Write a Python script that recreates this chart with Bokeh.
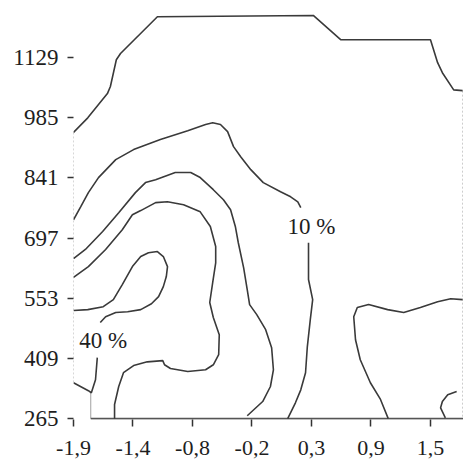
from bokeh.plotting import figure
from bokeh.models import Range1d, FixedTicker
from bokeh.core.properties import value
from bokeh.embed import file_html
from bokeh.resources import INLINE

# ---- axis ticks ----
x_tick_pos = [0, 1, 2, 3, 4, 5, 6]
x_tick_labels = ["-1,9", "-1,4", "-0,8", "-0,2", "0,3", "0,9", "1,5"]
y_ticks = [265, 409, 553, 697, 841, 985, 1129]

# ---- outer data boundary (top) ----
boundary_x = [0, 0.24, 0.57, 0.62, 0.72, 0.79, 1.41, 4.03, 4.49, 6.0, 6.12, 6.2, 6.39, 6.54]
boundary_y = [950, 985, 1043, 1060, 1124, 1139, 1227, 1230, 1172, 1172, 1117, 1093, 1052, 1050]

# left / right (dotted) edges and bottom-left edge of the data region
left_edge_x = [0, 0]
left_edge_y = [950, 351]
right_edge_x = [6.54, 6.54]
right_edge_y = [1050, 265]
bl_edge_x = [0.29, 0.29]
bl_edge_y = [327, 265]
base_x = [0.29, 6.6]
base_y = [265, 265]

# ---- 10 % contour ----
c10a_x = [0, 0.12, 0.25, 0.42, 0.71, 1.01, 1.46, 1.92, 2.22, 2.34, 2.47, 2.59, 2.69, 2.81, 2.98, 3.19, 3.48, 3.65, 3.77, 3.82]
c10a_y = [741, 772, 806, 842, 885, 909, 933, 954, 969, 973, 969, 952, 916, 892, 861, 830, 808, 796, 784, 770]
c10b_x = [3.95, 3.95, 4.02, 3.98, 3.93, 3.9, 3.82, 3.73, 3.6]
c10b_y = [686, 598, 550, 502, 437, 375, 334, 303, 265]

# ---- 20 % contour ----
c20_x = [0, 0.2, 0.49, 0.76, 1.04, 1.21, 1.38, 1.71, 1.97, 2.13, 2.35, 2.52, 2.64, 2.72, 2.77, 2.86, 2.92, 2.96, 3.08, 3.23, 3.33, 3.36, 3.31, 3.18, 2.92]
c20_y = [648, 670, 713, 758, 806, 830, 837, 854, 854, 842, 813, 789, 765, 725, 686, 626, 574, 538, 514, 478, 435, 382, 342, 306, 272]

# ---- 30 % contour ----
c30_x = [0, 0.25, 0.54, 0.82, 0.99, 1.13, 1.38, 1.58, 1.85, 2.13, 2.3, 2.39, 2.39, 2.34, 2.29, 2.35, 2.45, 2.44, 2.35, 2.22, 1.92, 1.63, 1.53, 1.5, 1.24, 1.01, 0.84, 0.76, 0.69, 0.69]
c30_y = [603, 629, 670, 717, 753, 763, 782, 784, 777, 760, 725, 677, 638, 591, 543, 507, 466, 418, 394, 382, 378, 385, 394, 404, 401, 392, 375, 342, 299, 265]

# ---- 40 % contour ----
c40a_x = [0, 0.24, 0.5, 0.67, 0.82, 0.99, 1.13, 1.26, 1.41, 1.51, 1.58, 1.56, 1.51, 1.43, 1.31, 1.13, 0.91, 0.71, 0.54, 0.45]
c40a_y = [524, 526, 533, 550, 586, 629, 653, 662, 665, 653, 629, 605, 581, 557, 540, 526, 521, 519, 509, 495]
c40b_x = [0.4, 0.37, 0.3, 0.25, 0]
c40b_y = [411, 358, 327, 332, 351]

# ---- right-hand contours ----
cr_x = [5.29, 5.16, 4.99, 4.82, 4.74, 4.71, 4.77, 4.96, 5.28, 5.55, 5.83, 6.12, 6.34, 6.54]
cr_y = [265, 311, 351, 406, 454, 509, 531, 538, 526, 519, 531, 545, 552, 550]
cs_x = [6.44, 6.29, 6.2, 6.17, 6.25]
cs_y = [330, 322, 306, 291, 267]

# ---- contour labels ----
lab_text = ["10 %", "40 %"]
lab_x = [4.0, 0.5]
lab_y = [724, 452]

FONT = "Liberation Serif"
INK = "#1e1e1e"
LINE = "#3a3a3a"

p = figure(width=463, height=460, output_backend="svg", toolbar_location=None,
           x_range=Range1d(0, 6.555), y_range=Range1d(263, 1265.8),
           min_border_left=73, min_border_right=0, min_border_top=0, min_border_bottom=41)
p.grid.visible = False
p.outline_line_color = None
p.background_fill_color = "white"
p.border_fill_color = "white"

p.xaxis.ticker = FixedTicker(ticks=x_tick_pos)
p.xaxis.major_label_overrides = {t: l for t, l in zip(x_tick_pos, x_tick_labels)}
p.yaxis.ticker = FixedTicker(ticks=y_ticks)
for ax in (p.xaxis, p.yaxis):
    ax.axis_line_color = None
    ax.minor_tick_line_color = None
    ax.major_tick_in = 0
    ax.major_tick_line_color = "#333333"
    ax.major_tick_line_width = 1.5
    ax.major_label_text_font = FONT
    ax.major_label_text_color = INK
p.xaxis.major_label_text_font_size = "22px"
p.yaxis.major_label_text_font_size = "23px"
p.xaxis.major_tick_out = 7
p.xaxis.major_label_standoff = 14
p.yaxis.major_tick_out = 6
p.yaxis.major_label_standoff = 9

# region edges
p.line(left_edge_x, left_edge_y, line_color="#b0b0b0", line_width=1, line_dash="2 2")
p.line(right_edge_x, right_edge_y, line_color="#c8c8c8", line_width=1, line_dash="2 2")
p.line(bl_edge_x, bl_edge_y, line_color="#a0a0a0", line_width=1)
p.line(base_x, base_y, line_color="#555555", line_width=2)
p.line(boundary_x, boundary_y, line_color=LINE, line_width=1.6)

for xs, ys in [(c10a_x, c10a_y), (c10b_x, c10b_y), (c20_x, c20_y), (c30_x, c30_y),
               (c40a_x, c40a_y), (c40b_x, c40b_y), (cr_x, cr_y), (cs_x, cs_y)]:
    p.line(xs, ys, line_color=LINE, line_width=1.6)

p.text(x=lab_x, y=lab_y, text=lab_text, text_font=value(FONT), text_font_size=value("23px"),
       text_align="center", text_baseline="middle", text_color=INK)

open("out.html", "w").write(file_html(p, INLINE))
